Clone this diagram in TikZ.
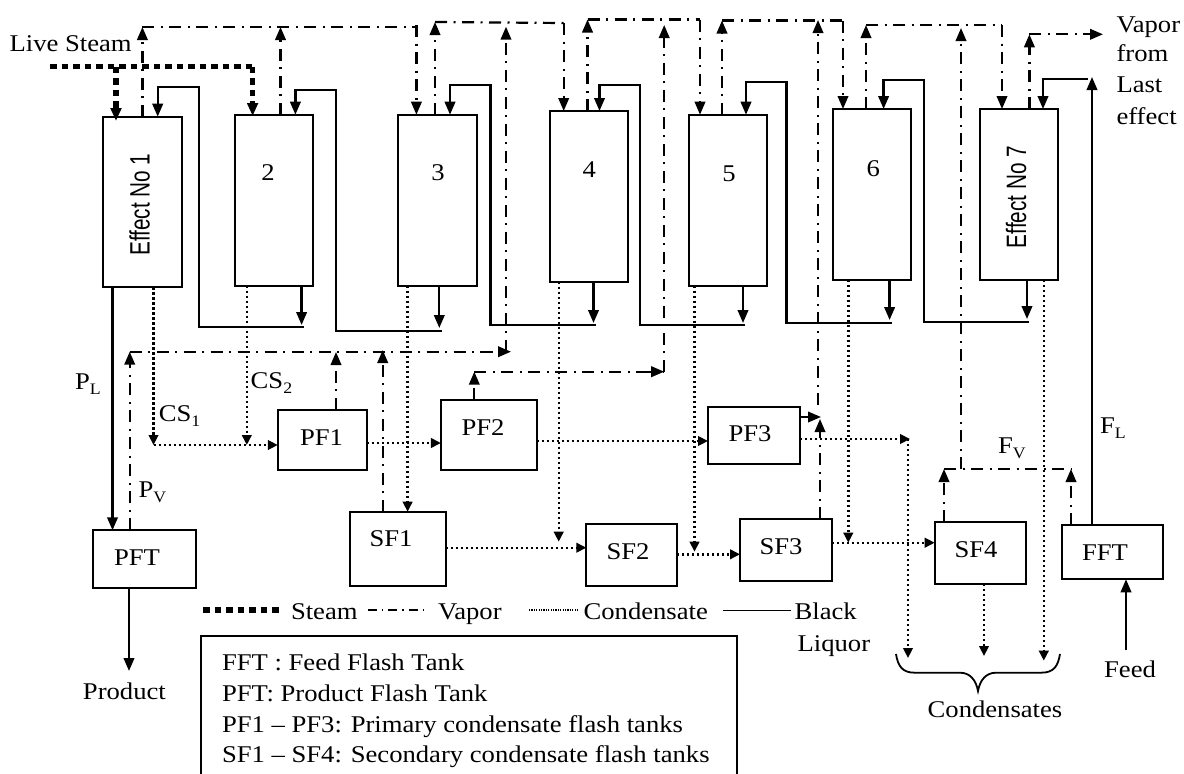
\documentclass[tikz,border=0pt]{standalone}
\usepackage{fontspec}
\setmainfont{Liberation Serif}
\newfontfamily\arialf{Liberation Sans}
\usetikzlibrary{arrows.meta,calc}
\newcommand{\tx}[1]{\scalebox{1.11}[1]{#1}}
\newcommand{\sbs}[1]{\raisebox{-5pt}{\fontsize{16}{18}\selectfont #1}}
\newcommand{\vtx}[1]{\scalebox{1.35}[1]{\rotatebox{90}{\fontsize{20.75}{24}\selectfont\arialf #1}}}
\newcommand{\bx}[5]{\node[tank,minimum width={(#4-#2)*1pt},minimum height={(#5-#3)*1pt}] (#1) at ({(#2+#4)/2},{(#3+#5)/2}) {};}
\tikzset{
  tank/.style={draw=black,line width=2pt,inner sep=0pt,outer sep=0pt},
  txt/.style={inner sep=0pt,outer sep=0pt,anchor=base west,font=\fontsize{24}{28}\selectfont,text=black},
  ctxt/.style={txt,anchor=base},
  tipb/.style={-{Triangle[length=13pt,width=10.5pt]}},
  steam/.style={line width=5.4pt,dash pattern=on 6.5pt off 5pt,black},
  vapor/.style={line width=2.2pt,dash pattern=on 12pt off 6.5pt on 2pt off 6.5pt,black},
  cond/.style={line width=2.4pt,dash pattern=on 2.2pt off 2.8pt,black},
  liq/.style={line width=2.3pt,black},
  vaparrow/.style={vapor,tipb},
  condarrow/.style={cond,-{Triangle[length=10pt,width=9.5pt]}},
  liqarrow/.style={liq,tipb}
}
\begin{document}
\begin{tikzpicture}[x=1pt,y=-1pt]
\useasboundingbox (0,0) rectangle (1184,774);
% ---------- boxes
\bx{E1}{103}{116.7}{182}{287.3}
\bx{E2}{234.6}{114.7}{313}{285.7}
\bx{E3}{398}{114.7}{476.5}{285.7}
\bx{E4}{549.5}{111}{627.5}{281.7}
\bx{E5}{688.5}{114.7}{766.5}{285.7}
\bx{E6}{833}{109}{911}{280}
\bx{E7}{980}{109}{1058}{280}
\bx{PFT}{93.4}{530.3}{196.3}{588.3}
\bx{PF1}{277.8}{409.7}{366.6}{470.3}
\bx{PF2}{440.9}{400}{536.5}{469.7}
\bx{PF3}{708}{406.7}{799.5}{463.7}
\bx{SF1}{350}{511.7}{445.5}{585.7}
\bx{SF2}{586.3}{524}{677}{586}
\bx{SF3}{740}{519}{831.7}{580.7}
\bx{SF4}{934.7}{522.3}{1026.4}{584}
\bx{FFT}{1062}{525}{1163}{579.3}
% ---------- labels in boxes
\node[anchor=center,inner sep=0pt] (lE1) at (139.7,204.7) {\vtx{Effect No 1}};
\node[anchor=center,inner sep=0pt] (lE7) at (1016,197) {\vtx{Effect No 7}};
\node[ctxt] (l2) at (268,180) {\tx{2}};
\node[ctxt] (l3) at (438,180) {\tx{3}};
\node[ctxt] (l4) at (589.4,177) {\tx{4}};
\node[ctxt] (l5) at (729,181) {\tx{5}};
\node[ctxt] (l6) at (873.3,176) {\tx{6}};
\node[ctxt] (lPF1) at (321.5,445) {\tx{PF1}};
\node[ctxt] (lPF2) at (483,435.7) {\tx{PF2}};
\node[ctxt] (lPF3) at (750,441.7) {\tx{PF3}};
\node[ctxt] (lSF1) at (391,546.7) {\tx{SF1}};
\node[ctxt] (lSF2) at (628,559) {\tx{SF2}};
\node[ctxt] (lSF3) at (781,554) {\tx{SF3}};
\node[ctxt] (lSF4) at (976,557) {\tx{SF4}};
\node[ctxt] (lFFT) at (1105,560) {\tx{FFT}};
\node[ctxt] (lPFT) at (137,565.7) {\tx{PFT}};
% ---------- free labels
\node[txt] (live) at (9.6,51.7) {\tx{Live Steam}};
\node[txt] (vo1) at (1116.5,32) {\tx{Vapor}};
\node[txt] (vo2) at (1116.5,61) {\tx{from}};
\node[txt] (vo3) at (1116.5,92.3) {\tx{Last}};
\node[txt] (vo4) at (1116.5,124) {\tx{effect}};
\node[txt] (PL) at (75,389) {\tx{P\sbs{L}}};
\node[txt] (CSa) at (158.8,421.7) {\tx{CS\sbs{1}}};
\node[txt] (CSb) at (250.7,388) {\tx{CS\sbs{2}}};
\node[txt] (PV) at (138.5,497) {\tx{P\sbs{V}}};
\node[txt] (FV) at (998,453) {\tx{F\sbs{V}}};
\node[txt] (FL) at (1100,433) {\tx{F\sbs{L}}};
\node[ctxt] (prod) at (124.4,699.3) {\tx{Product}};
\node[ctxt] (feed) at (1130,677) {\tx{Feed}};
\node[ctxt] (conds) at (995,717.3) {\tx{Condensates}};
% ---------- named junctions and free ends
\coordinate (sA) at (50,66.7);
\coordinate (sB) at (252.6,66.7);
\coordinate (t1) at (142.4,27);
\coordinate (t2) at (416.4,25);
\coordinate (t3) at (435,22);
\coordinate (t4) at (563.7,23);
\coordinate (tb) at (506,351.7);
\coordinate (tbl) at (129.7,351.7);
\coordinate (tbtop) at (506,26.7);
\coordinate (t5) at (587.5,19.5);
\coordinate (t6) at (700,19.5);
\coordinate (tc) at (664.2,371.7);
\coordinate (tcl) at (474.3,371.7);
\coordinate (tctop) at (664.2,25);
\coordinate (t7) at (722,20.5);
\coordinate (t8) at (843,20.5);
\coordinate (td) at (818,405);
\coordinate (tdtop) at (818,20);
\coordinate (pf3t) at (821,417);
\coordinate (t9) at (866,25);
\coordinate (t10) at (1002,25);
\coordinate (fvl) at (944,469);
\coordinate (fvr) at (1071,469);
\coordinate (fvm) at (961,469);
\coordinate (fvtop) at (961,28);
\coordinate (t11) at (1029.4,34.3);
\coordinate (vout) at (1103,34.3);
\coordinate (flt) at (1092,77);
\coordinate (flc) at (1088,78.7);
% ---------- steam
\draw[steam] (sA) -- (sB);
\draw[steam,tipb] (116,66.7) -- (116,121);
\draw[steam,tipb] (sB) -- (252.6,116);
% ---------- vapor
\draw[vaparrow] (142.4,0 |- E1.north) -- (t1);
\draw[vapor] (t1) -- (416.4,27) -- (t2);
\draw[vaparrow] (t2) -- (416.4,0 |- E3.north);
\draw[vaparrow] (280.5,0 |- E2.north) -- (280.5,27);
\draw[vaparrow] (435,0 |- E3.north) -- (t3);
\draw[vapor] (t3) -- (t4);
\draw[vaparrow] (t4) -- (563.7,0 |- E4.north);
\draw[vaparrow] (tb) -- (tbtop);
\draw[vapor] (tbl) -- (tb);
\draw[vaparrow] (480,351.7) -- (511,351.7);
\draw[vaparrow] (587.5,0 |- E4.north) -- (t5);
\draw[vapor] (t5) -- (t6);
\draw[vaparrow] (t6) -- (700,0 |- E5.north);
\draw[vaparrow] (tc) -- (tctop);
\draw[vapor] (tcl) -- (tc);
\draw[vaparrow] (640,371.7) -- (tc);
\draw[vaparrow] (474.3,0 |- PF2.north) -- (tcl);
\draw[vaparrow] (722,0 |- E5.north) -- (t7);
\draw[vapor] (t7) -- (t8);
\draw[vaparrow] (t8) -- (843,0 |- E6.north);
\draw[vaparrow] (td) -- (tdtop);
\draw[vaparrow] (PF3.east |- pf3t) -- (pf3t);
\draw[vaparrow] (820,0 |- SF3.north) -- (820,419);
\draw[vaparrow] (866,0 |- E6.north) -- (t9);
\draw[vapor] (t9) -- (t10);
\draw[vaparrow] (t10) -- (1002,0 |- E7.north);
\draw[vaparrow] (fvm) -- (fvtop);
\draw[vapor] (fvl) -- (fvr);
\draw[vaparrow] (944,0 |- SF4.north) -- (fvl);
\draw[vaparrow] (1071,0 |- FFT.north) -- (fvr);
\draw[vaparrow] (1029.4,0 |- E7.north) -- (t11);
\draw[vaparrow] (t11) -- (vout);
\draw[vaparrow] (129.7,0 |- PFT.north) -- (tbl);
\draw[vaparrow] (336,0 |- PF1.north) -- (336,352);
\draw[vaparrow] (382.7,0 |- SF1.north) -- (382.7,350);
% ---------- black liquor
\draw[liqarrow] (304,327.3) -| (199,86.7) -| (157.7,0 |- E1.north);
\draw[liqarrow] (442,331) -| (336,90) -| (295.4,0 |- E2.north);
\draw[liqarrow] (596,325) -| (490.6,85) -| (450,0 |- E3.north);
\draw[liqarrow] (745,325) -| (640,84.7) -| (599.5,0 |- E4.north);
\draw[liqarrow] (892,323.3) -| (786.6,82.3) -| (746,0 |- E5.north);
\draw[liqarrow] (1029,321.7) -| (924,80.3) -| (883.6,0 |- E6.north);
\draw[liqarrow] (flc) -| (1043,0 |- E7.north);
\draw[liqarrow] (301.6,0 |- E2.south) -- (301.6,325);
\draw[liqarrow] (439.3,0 |- E3.south) -- (439.3,328);
\draw[liqarrow] (593.5,0 |- E4.south) -- (593.5,323);
\draw[liqarrow] (743,0 |- E5.south) -- (743,323);
\draw[liqarrow] (889.6,0 |- E6.south) -- (889.6,320);
\draw[liqarrow] (1027,0 |- E7.south) -- (1027,319);
\draw[liqarrow] (112.5,0 |- E1.south) -- (112.5,0 |- PFT.north);
\draw[liqarrow] (1092,0 |- FFT.north) -- (flt);
\draw[liqarrow] (1126,650) -- (1126,0 |- FFT.south);
\draw[liqarrow] (129,0 |- PFT.south) -- (129,671);
% ---------- condensate
\draw[condarrow] (153.5,0 |- E1.south) -- (153.5,445);
\draw[condarrow] (153.5,445) -- (PF1.west |- 0,445);
\draw[condarrow] (246.8,0 |- E2.south) -- (246.8,445);
\draw[condarrow] (PF1.east |- 0,443) -- (PF2.west |- 0,443);
\draw[condarrow] (PF2.east |- 0,441) -- (PF3.west |- 0,441);
\draw[condarrow] (407.6,0 |- E3.south) -- (407.6,0 |- SF1.north);
\draw[condarrow] (558.7,0 |- E4.south) -- (558.7,541.7);
\draw[condarrow] (SF1.east |- 0,547.7) -- (SF2.west |- 0,547.7);
\draw[condarrow] (694.5,0 |- E5.south) -- (694.5,551.7);
\draw[condarrow] (SF2.east |- 0,554.3) -- (SF3.west |- 0,554.3);
\draw[condarrow] (848.3,0 |- E6.south) -- (848.3,542.7);
\draw[condarrow] (SF3.east |- 0,542.7) -- (SF4.west |- 0,542.7);
\draw[condarrow] (PF3.east |- 0,439) -- (910,439);
\draw[condarrow] (908,439) -- (908,658);
\draw[condarrow] (984,0 |- SF4.south) -- (984,656);
\draw[condarrow] (1043.8,0 |- E7.south) -- (1043.8,660.7);
% ---------- brace
\coordinate (brL) at (896,654);
\coordinate (brR) at (1060,654);
\coordinate (brT) at (978,691);
\draw[line width=1.8pt,black] (brL) .. controls (898,666) and (902,672.7) .. (915,672.7) -- (960,672.7)
  .. controls (970,672.7) and (976,680) .. (brT)
  .. controls (980,680) and (986,672.7) .. (996,672.7) -- (1041,672.7)
  .. controls (1054,672.7) and (1058,666) .. (brR);
% ---------- legend row
\coordinate (lgA) at (203,610); \coordinate (lgB) at (280.5,610);
\coordinate (lgC) at (368,610); \coordinate (lgD) at (428.6,610);
\coordinate (lgE) at (529,610); \coordinate (lgF) at (578,610);
\coordinate (lgG) at (723,610.7); \coordinate (lgH) at (791,610.7);
\draw[steam] (lgA) -- (lgB);
\draw[line width=1.1pt,dash pattern=on 9pt off 5pt on 1.4pt off 5pt,black] (lgC) -- (lgD);
\draw[line width=1.1pt,dash pattern=on 1.2pt off 1.2pt,black] (lgE) -- (lgF);
\draw[line width=1.3pt,black] (lgG) -- (lgH);
\node[txt] (lS) at (291,619) {\tx{Steam}};
\node[txt] (lV) at (438,619) {\tx{Vapor}};
\node[txt] (lC) at (583.6,619) {\tx{Condensate}};
\node[txt] (lB) at (794.6,619.3) {\tx{Black}};
\node[txt] (lL) at (797.6,651.7) {\tx{Liquor}};
% ---------- key box (cut off by the lower edge)
\coordinate (kA) at (201.3,774); \coordinate (kB) at (201.3,635.7);
\coordinate (kC) at (736.6,635.7); \coordinate (kD) at (736.6,774);
\draw[line width=1.8pt,black] (kA) -- (kB) -- (kC) -- (kD);
\node[txt] (k1) at (222,670) {\tx{FFT : Feed Flash Tank}};
\node[txt] (k2) at (222,701) {\tx{PFT: Product Flash Tank}};
\node[txt] (k3) at (222,732.7) {\tx{PF1 – PF3: Primary condensate flash tanks}};
\node[txt] (k4) at (222,762.7) {\tx{SF1 – SF4: Secondary condensate flash tanks}};
\end{tikzpicture}
\end{document}
